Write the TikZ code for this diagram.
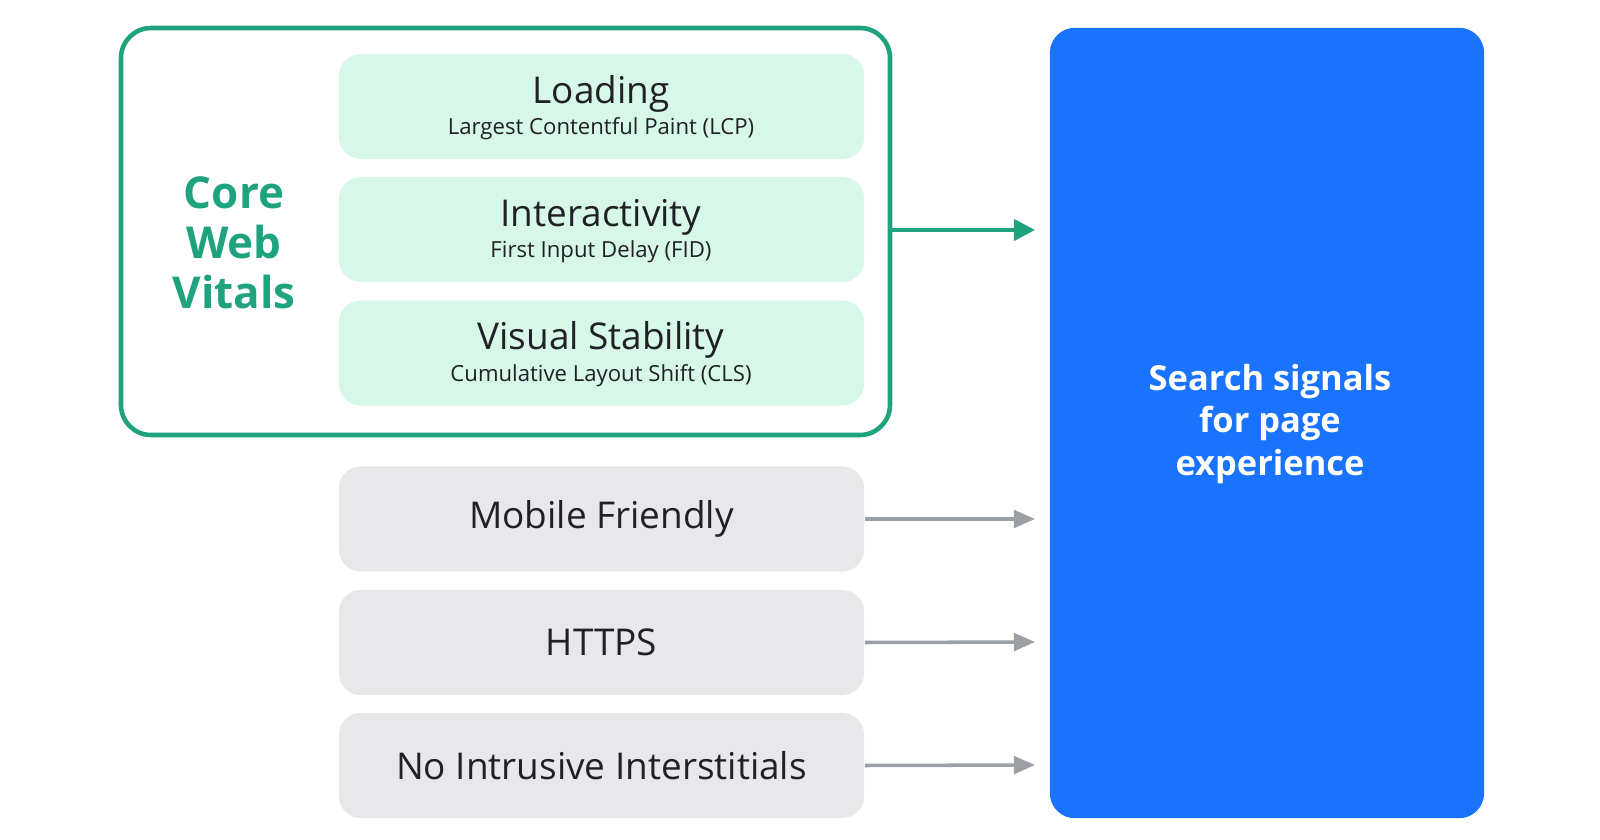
\documentclass[tikz,border=0pt]{standalone}
\usepackage{fontspec}
\setmainfont{Open Sans}
\usetikzlibrary{arrows.meta}
\definecolor{cwv}{HTML}{1EA37E}
\definecolor{lgreen}{HTML}{D7F7E8}
\definecolor{lgray}{HTML}{E8E8EA}
\definecolor{gblue}{HTML}{1A73FF}
\definecolor{dtext}{HTML}{202124}
\definecolor{garrow}{HTML}{9AA0A6}
\begin{document}
\begin{tikzpicture}[x=0.01cm,y=-0.01cm,
  gbox/.style={fill=lgreen,rounded corners=0.22cm,draw=none},
  ybox/.style={fill=lgray,rounded corners=0.22cm,draw=none},
  title/.style={font=\fontsize{10.5}{12}\selectfont,text=dtext},
  sub/.style={font=\fontsize{6.3}{8}\selectfont,text=dtext},
  garr/.style={draw=cwv,line width=1.2pt,-{Triangle[length=6pt,width=6pt]}},
  parr/.style={draw=garrow,line width=1pt,-{Triangle[length=6pt,width=5pt]}}]
\useasboundingbox (0,0) rectangle (1600,840);
\fill[white] (0,0) rectangle (1600,840);
\draw[cwv,line width=1.3pt,rounded corners=0.3cm] (121,28) rectangle (890,435);
\coordinate (cwvR) at (890,230);
\node[gbox,minimum width=5.25cm,minimum height=1.05cm] (l) at (601.5,106.5) {};
\node[gbox,minimum width=5.25cm,minimum height=1.05cm] (i) at (601.5,229.5) {};
\node[gbox,minimum width=5.25cm,minimum height=1.05cm] (v) at (601.5,353) {};
\node[title] (lt) at (601,94) {Loading};
\node[sub] (ls) at (601,129) {Largest Contentful Paint (LCP)};
\node[title] (it) at (601,217) {Interactivity};
\node[sub] (is) at (601,252) {First Input Delay (FID)};
\node[title] (vt) at (601,340) {Visual Stability};
\node[sub] (vs) at (601,376) {Cumulative Layout Shift (CLS)};
\node[text=cwv,font=\fontsize{12.5}{14.2}\selectfont\bfseries,align=center] (core) at (234,243) {Core\\Web\\Vitals};
\node[ybox,minimum width=5.25cm,minimum height=1.05cm,title] (m) at (601.5,519) {Mobile Friendly};
\node[ybox,minimum width=5.25cm,minimum height=1.05cm,title] (h) at (601.5,642.5) {HTTPS};
\node[ybox,minimum width=5.25cm,minimum height=1.05cm,title] (n) at (601.5,765.5) {No Intrusive Interstitials};
\node[fill=gblue,rounded corners=0.25cm,minimum width=4.34cm,minimum height=7.9cm] (s) at (1267,423) {};
\node[text=white,font=\fontsize{9.8}{12.2}\selectfont\bfseries,align=center] (st) at (1270,424) {Search signals\\for page\\experience};
\coordinate (t1) at (1035,230);
\coordinate (t2) at (1035,519);
\coordinate (t3) at (1035,642);
\coordinate (t4) at (1035,765);
\draw[garr] (cwvR) -- (t1);
\draw[parr] (m.east) -- (t2);
\draw[parr] (h.east) -- (t3);
\draw[parr] (n.east) -- (t4);
\end{tikzpicture}
\end{document}
